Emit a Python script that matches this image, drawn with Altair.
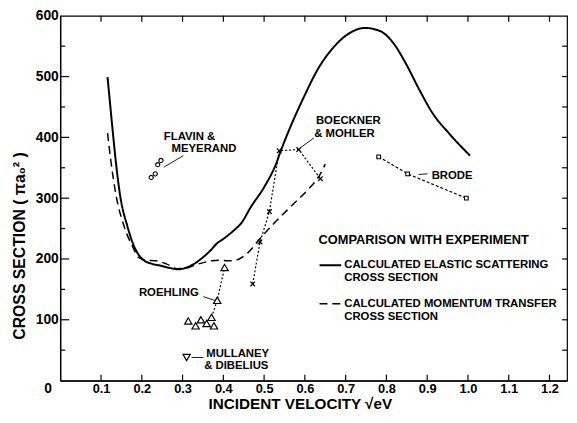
import altair as alt
import pandas as pd

F = "Liberation Sans"

# Calculated elastic scattering cross section (solid curve)
elastic_x = [0.116, 0.128, 0.136, 0.146, 0.165, 0.181, 0.201, 0.225, 0.246, 0.27, 0.29, 0.31,
             0.326, 0.345, 0.367, 0.385, 0.40, 0.424, 0.444, 0.468, 0.50, 0.529, 0.541, 0.565,
             0.598, 0.63, 0.67, 0.711, 0.747, 0.784, 0.816, 0.848, 0.881, 0.913, 0.953, 1.005]
elastic_y = [499, 415, 362, 308, 253, 221, 200, 192, 189, 185, 183, 186,
             191, 200, 213, 226, 233, 246, 259, 286, 318, 356, 378, 418,
             467, 510, 548, 572, 580, 575, 556, 521, 478, 440, 407, 370]

# Calculated momentum transfer cross section (dashed curve)
momentum_x = [0.116, 0.124, 0.136, 0.157, 0.177, 0.193, 0.21, 0.235, 0.26, 0.286, 0.31, 0.33,
              0.351, 0.371, 0.391, 0.411, 0.43, 0.444, 0.46, 0.488, 0.525, 0.565, 0.606, 0.638, 0.65]
momentum_y = [407, 362, 308, 253, 221, 202, 198, 197, 192, 184, 185, 190,
              194, 197, 198, 197, 198, 202, 210, 232, 259, 286, 313, 340, 356]

curve_names = ["CALCULATED ELASTIC SCATTERING|CROSS SECTION",
               "CALCULATED MOMENTUM TRANSFER|CROSS SECTION"]

# Experiments
flavin_x = [0.223, 0.233, 0.239, 0.247]
flavin_y = [334, 340, 355, 362]
boeckner_x = [0.472, 0.49, 0.513, 0.537, 0.585, 0.638]
boeckner_y = [159, 228, 278, 378, 380, 332]
brode_x = [0.781, 0.852, 0.996]
brode_y = [368, 340, 300]
roehling_x = [0.314, 0.332, 0.345, 0.359, 0.371, 0.377, 0.385, 0.403]
roehling_y = [98, 90, 100, 94, 104, 90, 132, 186]
roehling_line_x = [0.371, 0.385, 0.403]
roehling_line_y = [104, 132, 186]
mullaney_x = [0.31]
mullaney_y = [38]

# Axis ticks
x_ticks = [0.1, 0.2, 0.3, 0.4, 0.5, 0.6, 0.7, 0.8, 0.9, 1.0, 1.1, 1.2]
y_ticks = [0, 100, 200, 300, 400, 500, 600]
y_minor = [50, 150, 250, 350, 450, 550]
right_ticks = [50, 100, 150, 200, 250, 300, 350, 400, 450, 500, 550]

# Annotations
label_text = ["FLAVIN &", "MEYERAND", "BOECKNER", "& MOHLER", "BRODE", "ROEHLING", "MULLANEY", "& DIBELIUS"]
label_x = [0.254, 0.273, 0.627, 0.623, 0.911, 0.193, 0.358, 0.353]
label_y = [401, 381, 427, 405, 336, 144, 44, 24]
leader_x = [0.254, 0.589, 0.879, 0.351, 0.322]
leader_y = [351, 383, 339, 138, 38]
leader_x2 = [0.302, 0.622, 0.901, 0.379, 0.351]
leader_y2 = [370, 399, 340, 132, 38]

W, H = 514, 370
xs = alt.Scale(domain=[0, 1.243], nice=False, zero=False)
ys = alt.Scale(domain=[0, 600], nice=False, zero=False)

curve_df = pd.concat([
    pd.DataFrame({"x": elastic_x, "y": elastic_y, "curve": curve_names[0], "i": range(len(elastic_x))}),
    pd.DataFrame({"x": momentum_x, "y": momentum_y, "curve": curve_names[1], "i": range(len(momentum_x))}),
])

x_axis = alt.Axis(values=x_ticks, format=".1f", ticks=False, grid=False, domainColor="black",
                  domainWidth=1.3, labelFont=F, labelFontSize=13, labelFontWeight="bold",
                  labelColor="black", labelPadding=2, labelOverlap=False, labelFlush=False,
                  title="INCIDENT  VELOCITY  √eV", titleFont=F, titleFontSize=15.5, titleFontWeight="bold",
                  titleColor="black", titleX=243, titleY=28, titleBaseline="alphabetic", titleAlign="center")
y_axis = alt.Axis(values=y_ticks, ticks=False, grid=False, domainColor="black", domainWidth=1.3,
                  labelFont=F, labelFontSize=14, labelFontWeight="bold", labelColor="black",
                  labelPadding={"condition": {"test": "datum.value == 0", "value": 9}, "value": 2},
                  labelOffset={"condition": {"test": "datum.value == 0", "value": 8}, "value": 0},
                  labelOverlap=False, labelFlush=False,
                  title="CROSS  SECTION  ( πa₀² )", titleFont=F, titleFontSize=16, titleFontWeight="bold",
                  titleColor="black", titleX=-41, titleY=233, titleAngle=270,
                  titleBaseline="middle", titleAlign="center")

X = lambda f: alt.X(f, scale=xs, axis=x_axis)
Y = lambda f: alt.Y(f, scale=ys, axis=y_axis)

curves = alt.Chart(curve_df).mark_line(color="black", interpolate="monotone").encode(
    x=X("x:Q"),
    y=Y("y:Q"),
    order="i:Q",
    strokeDash=alt.StrokeDash("curve:N", scale=alt.Scale(domain=curve_names, range=[[1, 0], [8, 5]]),
                              legend=alt.Legend(orient="none", legendX=262, legendY=221,
                                                title="COMPARISON WITH EXPERIMENT", titleFont=F,
                                                titleFontSize=13, titleFontWeight="bold", titleColor="black",
                                                titleLimit=400, titlePadding=7, labelFont=F, labelFontSize=11.5,
                                                labelFontWeight="bold", labelColor="black",
                                                labelExpr="split(datum.label, '|')", labelLimit=400,
                                                symbolType="stroke", symbolSize=484, symbolStrokeColor="black",
                                                symbolStrokeWidth=1.8, rowPadding=8, labelOffset=2)),
    strokeWidth=alt.StrokeWidth("curve:N", scale=alt.Scale(domain=curve_names, range=[2, 1.5]), legend=None),
)

def pts(xv, yv):
    return pd.DataFrame({"x": xv, "y": yv, "i": range(len(xv))})

def enc(ch):
    return ch.encode(x=X("x:Q"), y=Y("y:Q"))

dotted = dict(color="black", strokeWidth=1.2, strokeDash=[2, 2])

boeckner_line = enc(alt.Chart(pts(boeckner_x, boeckner_y)).mark_line(**dotted)).encode(order="i:Q")
boeckner_pts = enc(alt.Chart(pts(boeckner_x, boeckner_y)).mark_point(
    shape="M-1,-1L1,1M1,-1L-1,1", size=22, color="black", filled=False, strokeWidth=1.2, opacity=1))
roehling_line = enc(alt.Chart(pts(roehling_line_x, roehling_line_y)).mark_line(**dotted)).encode(order="i:Q")
roehling_pts = enc(alt.Chart(pts(roehling_x, roehling_y)).mark_point(
    shape="triangle-up", size=55, color="black", filled=False, strokeWidth=1.2, opacity=1, fill="white"))
brode_line = enc(alt.Chart(pts(brode_x, brode_y)).mark_line(color="black", strokeWidth=1.2, strokeDash=[3, 2])).encode(order="i:Q")
brode_pts = enc(alt.Chart(pts(brode_x, brode_y)).mark_point(
    shape="square", size=14, color="black", filled=False, strokeWidth=1.1, opacity=1, fill="white"))
flavin_pts = enc(alt.Chart(pts(flavin_x, flavin_y)).mark_point(
    shape="circle", size=18, color="black", filled=False, strokeWidth=1.1, opacity=1))
mullaney_pts = enc(alt.Chart(pts(mullaney_x, mullaney_y)).mark_point(
    shape="triangle-down", size=55, color="black", filled=False, strokeWidth=1.2, opacity=1))

labels = alt.Chart(pd.DataFrame({"t": label_text, "x": label_x, "y": label_y})).mark_text(
    align="left", baseline="middle", font=F, fontSize=11.5, fontWeight="bold", color="black").encode(
    x=X("x:Q"), y=Y("y:Q"), text="t:N")

leaders = alt.Chart(pd.DataFrame({"x": leader_x, "y": leader_y, "x2": leader_x2, "y2": leader_y2})).mark_rule(
    color="black", strokeWidth=0.9).encode(x=X("x:Q"), y=Y("y:Q"), x2="x2:Q", y2="y2:Q")

def vdf(name, v):
    return pd.DataFrame({name: v})

bottom_ticks = alt.Chart(vdf("x", x_ticks)).mark_rule(color="black", strokeWidth=1.2).encode(
    x=X("x:Q"), y=alt.value(H), y2=alt.value(H - 6))
top_ticks = alt.Chart(vdf("x", x_ticks)).mark_rule(color="black", strokeWidth=1.2).encode(
    x=X("x:Q"), y=alt.value(0), y2=alt.value(6))
left_major = alt.Chart(vdf("y", y_ticks[1:-1])).mark_rule(color="black", strokeWidth=1.2).encode(
    y=Y("y:Q"), x=alt.value(0), x2=alt.value(9))
left_minor = alt.Chart(vdf("y", y_minor)).mark_rule(color="black", strokeWidth=1.2).encode(
    y=Y("y:Q"), x=alt.value(0), x2=alt.value(5))
right_t = alt.Chart(vdf("y", right_ticks)).mark_rule(color="black", strokeWidth=1.2).encode(
    y=Y("y:Q"), x=alt.value(W), x2=alt.value(W - 5))

chart = alt.layer(
    curves, boeckner_line, roehling_line, brode_line,
    boeckner_pts, roehling_pts, brode_pts, flavin_pts, mullaney_pts,
    leaders, labels, bottom_ticks, top_ticks, left_major, left_minor, right_t,
).properties(
    width=W, height=H,
    autosize=alt.AutoSizeParams(type="none"),
    padding={"left": 53, "top": 5, "right": 2, "bottom": 30},
    background="white",
).configure_view(stroke="black", strokeWidth=1.2)

chart.save("out.html", embed_options={"renderer": "svg", "actions": False})
